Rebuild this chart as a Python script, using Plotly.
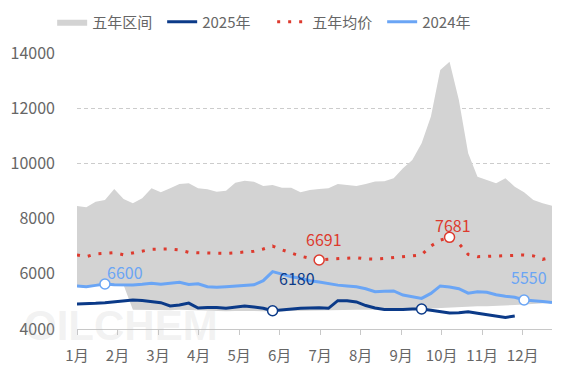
import plotly.graph_objects as go

# ---------------- data ----------------
months = ["1月", "2月", "3月", "4月", "5月", "6月", "7月", "8月", "9月", "10月", "11月", "12月"]

range_upper = [8457, 8410, 8612, 8674, 9072, 8710, 8554, 8735, 9098, 8953,
               9098, 9254, 9279, 9098, 9061, 8975, 9011, 9301, 9373, 9337,
               9181, 9217, 9120, 9120, 8953, 9036, 9070, 9098, 9250, 9217,
               9180, 9250, 9340, 9350, 9460, 9822, 10123, 10728, 11700, 13384,
               13685, 12297, 10366, 9518, 9399, 9279, 9460, 9156, 8953, 8674,
               8554, 8467]

range_lower = [5560, 5530, 5580, 5630, 5600, 5590, 4700, 4690, 4680, 4670,
               4680, 4700, 4690, 4660, 4650, 4640, 4640, 4650, 4660, 4650,
               4640, 4630, 4640, 4650, 4660, 4670, 4680, 4690, 4690, 4700,
               4700, 4700, 4710, 4700, 4700, 4700, 4710, 4720, 4740, 4760,
               4780, 4800, 4810, 4820, 4820, 4830, 4850, 4870, 4890, 4910,
               4930, 4950]

price_2025 = [4906, 4906, 4930, 4953, 4990, 5030, 5050, 5030, 5000, 4953,
              4833, 4870, 4940, 4760, 4780, 4780, 4750, 4800, 4833, 4800,
              4750, 4663, 4700, 4740, 4750, 4760, 4770, 4750, 5025, 5025,
              4980, 4850, 4760, 4710, 4700, 4710, 4725, 4725, 4680, 4640,
              4580, 4590, 4627, 4570, 4520, 4470, 4420, 4470]

avg_5y = [6681, 6620, 6720, 6750, 6765, 6690, 6760, 6840, 6886, 6895,
          6898, 6860, 6780, 6760, 6745, 6741, 6741, 6760, 6780, 6820,
          6900, 7007, 6870, 6760, 6640, 6560, 6500, 6530, 6548, 6570,
          6584, 6540, 6530, 6555, 6580, 6620, 6650, 6690, 7007, 7220,
          7322, 7100, 6700, 6620, 6630, 6645, 6660, 6681, 6681, 6650,
          6524, 6597]

price_2024 = [5560, 5530, 5580, 5630, 5600, 5590, 5594, 5620, 5655, 5620,
              5650, 5690, 5610, 5640, 5530, 5510, 5530, 5560, 5580, 5600,
              5750, 6077, 5990, 5895, 5840, 5750, 5700, 5640, 5590, 5560,
              5530, 5460, 5350, 5370, 5380, 5232, 5180, 5110, 5290, 5560,
              5520, 5460, 5300, 5350, 5330, 5240, 5190, 5150, 5050, 5030,
              5000, 4960]

y_ticks = [4000, 6000, 8000, 10000, 12000, 14000]

# highlighted points (week index) and their labels
pts_2024 = [3, 48]
lbl_2024 = ["6600", "5550"]
pts_2025 = [21, 37]
lbl_2025 = ["6180", ""]
pts_avg = [26, 40]
lbl_avg = ["6691", "7681"]

# ---------------- styling ----------------
C_AREA = "#d3d3d3"
C_2025 = "#0b3a88"
C_AVG = "#dd3a2e"
C_2024 = "#6aa5f5"
C_TEXT = "#666666"
FONT = "Noto Sans CJK SC"

x = list(range(len(range_upper)))
x25 = x[:len(price_2025)]
month_pos = [m * 4.35 for m in range(len(months))]

fig = go.Figure()
fig.add_trace(go.Scatter(x=x, y=range_lower, mode="lines", line=dict(width=0, color=C_AREA),
                         showlegend=False, hoverinfo="skip"))
fig.add_trace(go.Scatter(x=x, y=range_upper, mode="lines", line=dict(width=0, color=C_AREA),
                         fill="tonexty", fillcolor=C_AREA, name="五年区间"))
fig.add_trace(go.Scatter(x=x25, y=price_2025, mode="lines", line=dict(width=3, color=C_2025),
                         name="2025年"))
fig.add_trace(go.Scatter(x=x, y=avg_5y, mode="lines", line=dict(width=3, color=C_AVG, dash="3px,8px"),
                         name="五年均价"))
fig.add_trace(go.Scatter(x=x, y=price_2024, mode="lines", line=dict(width=3, color=C_2024),
                         name="2024年"))

for pts, series, col in [(pts_2024, price_2024, C_2024), (pts_2025, price_2025, C_2025),
                         (pts_avg, avg_5y, C_AVG)]:
    fig.add_trace(go.Scatter(x=pts, y=[series[i] for i in pts], mode="markers",
                             marker=dict(size=10, color="white", line=dict(width=1.5, color=col)),
                             showlegend=False, hoverinfo="skip"))

annotations = []
label_shift = {
    "6600": (0, 12, "left"), "5550": (5, 23, "center"),
    "6180": (4, 33, "left"),
    "6691": (5, 21, "center"), "7681": (3, 12, "center"),
}
for pts, labels, series, col in [(pts_2024, lbl_2024, price_2024, C_2024),
                                 (pts_2025, lbl_2025, price_2025, C_2025),
                                 (pts_avg, lbl_avg, avg_5y, C_AVG)]:
    for i, t in zip(pts, labels):
        if not t:
            continue
        dx, dy, xa = label_shift[t]
        annotations.append(dict(x=i, y=series[i], text=t, showarrow=False, xanchor=xa,
                                yanchor="middle", xshift=dx, yshift=dy,
                                font=dict(family=FONT, size=16, color=col)))

# watermark
annotations.append(dict(x=0.0926, y=0.011, xref="paper", yref="paper", text="<b>OILCHEM</b>",
                        showarrow=False, xanchor="center", yanchor="middle",
                        font=dict(family="Liberation Sans", size=42, color="rgba(190,190,190,0.2)")))

fig.update_layout(
    width=567, height=378,
    margin=dict(l=77, r=15, t=53, b=49, autoexpand=False),
    paper_bgcolor="white", plot_bgcolor="white",
    font=dict(family=FONT, size=15, color=C_TEXT),
    legend=dict(orientation="h", xref="container", yref="container",
                x=0.092, xanchor="left", y=0.942, yanchor="middle", traceorder="normal",
                font=dict(family=FONT, size=15, color=C_TEXT),
                entrywidth=65, entrywidthmode="pixels", bgcolor="rgba(0,0,0,0)"),
    annotations=annotations,
    showlegend=True,
)
fig.update_xaxes(range=[0, len(x) - 1], tickmode="array", tickvals=month_pos, ticktext=months,
                 showgrid=False, zeroline=False, showline=True, linecolor="#c8c8c8", linewidth=1,
                 ticks="outside", ticklen=5, tickcolor="#c8c8c8", automargin=False,
                 tickfont=dict(family=FONT, size=15, color=C_TEXT), ticklabelstandoff=8)
fig.update_yaxes(range=[4000, 14000], tickmode="array", tickvals=y_ticks,
                 ticktext=[str(v) for v in y_ticks], automargin=False,
                 showgrid=True, gridcolor="#cccccc", griddash="4px,3px", gridwidth=1,
                 zeroline=False, showline=False, ticks="",
                 tickfont=dict(family=FONT, size=16, color=C_TEXT), ticklabelstandoff=21)

fig.write_html("out.html", config={"displayModeBar": False},
               post_script="document.body.style.margin='0';document.body.style.overflow='hidden';")
